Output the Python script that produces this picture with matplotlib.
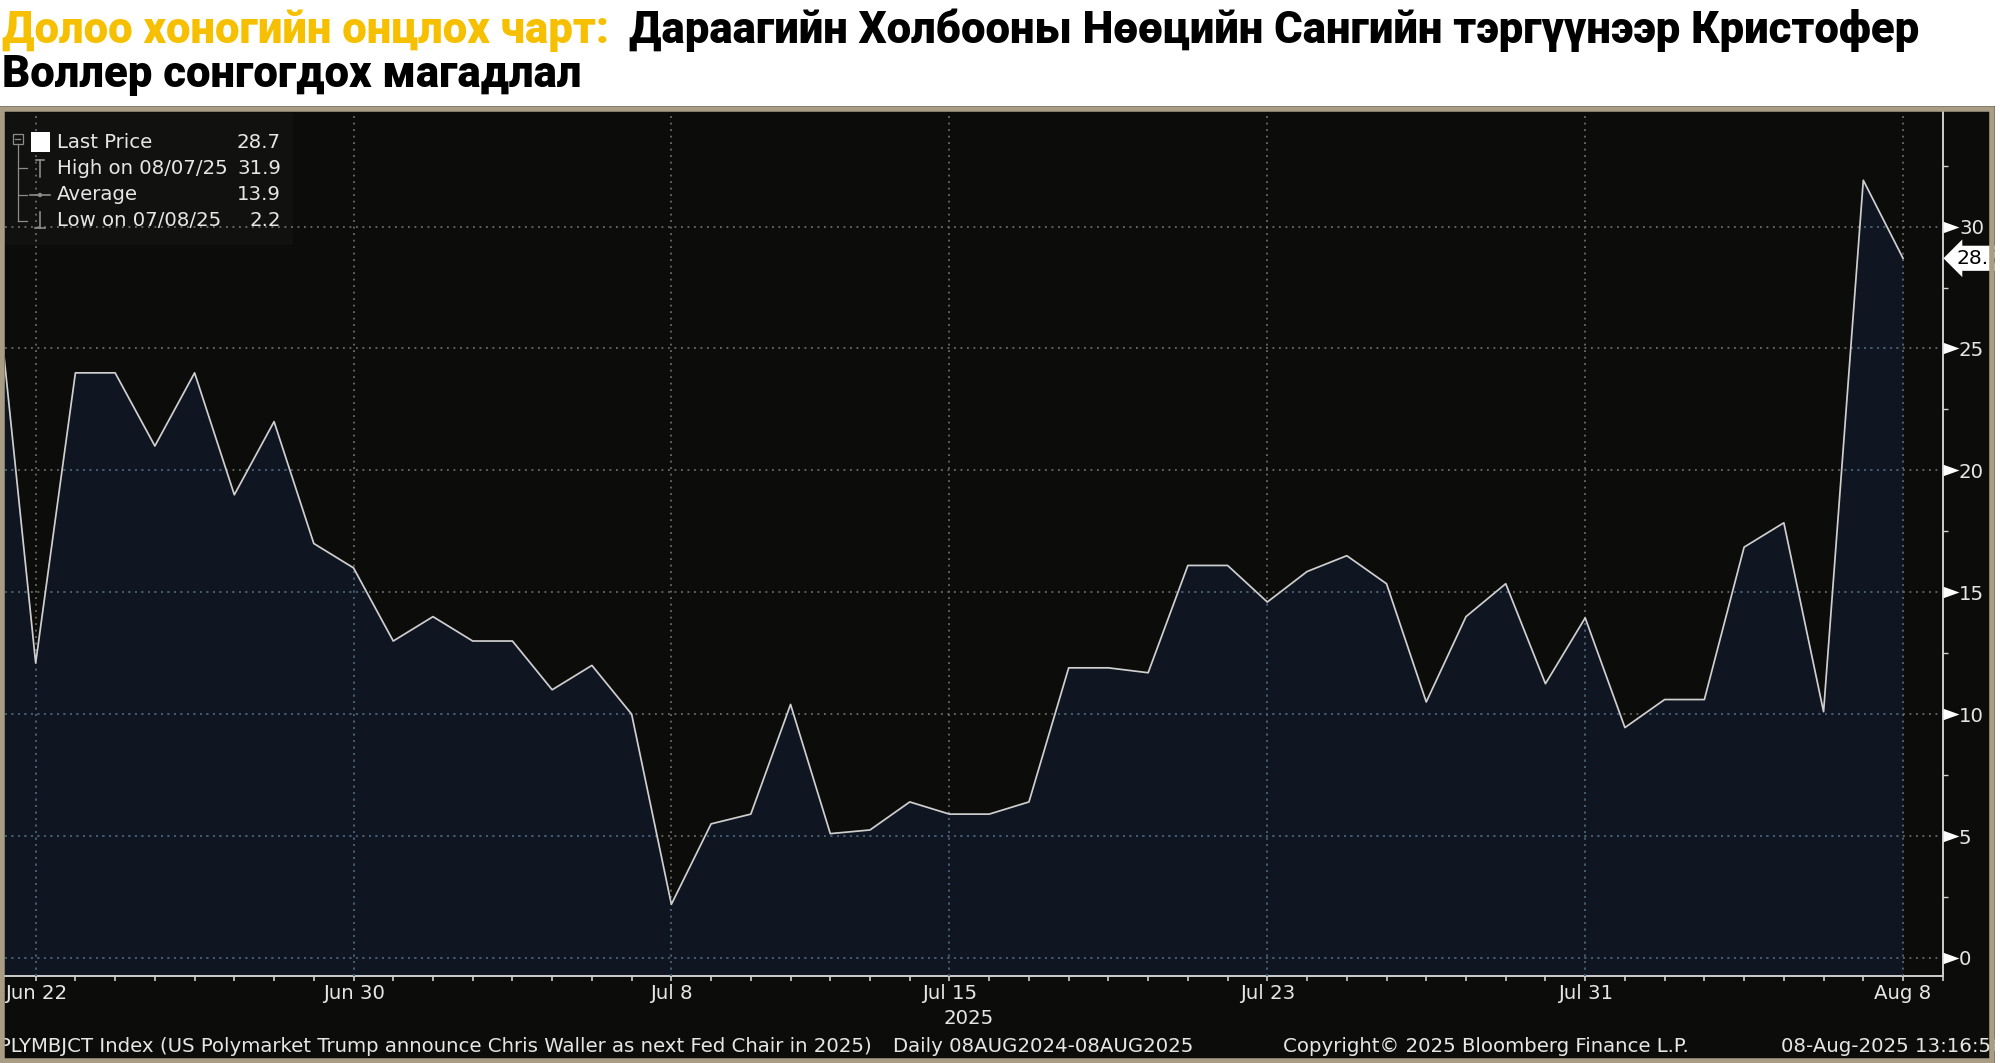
"""Bloomberg-style chart: Polymarket odds that Trump names Chris Waller as next Fed Chair."""

import matplotlib

matplotlib.use("Agg")
import matplotlib.pyplot as plt  # noqa: E402
import matplotlib.dates as mdates  # noqa: E402
import numpy as np  # noqa: E402
import pandas as pd  # noqa: E402
from matplotlib.patches import Rectangle, Circle  # noqa: E402

W, H = 2008, 1063  # output size in pixels (dpi 100)

# --- data (daily, % probability) --------------------------------------------
dates = pd.date_range("2025-06-21", "2025-08-08", freq="D")
probability = [
    27.9, 12.1, 24.0, 24.0, 21.0, 24.0, 19.0, 22.0, 17.0, 16.0,   # Jun 21-30
    13.0, 14.0, 13.0, 13.0, 11.0, 12.0, 10.0, 2.2, 5.5, 5.9,      # Jul 1-10
    10.4, 5.1, 5.25, 6.4, 5.9, 5.9, 6.4, 11.9, 11.9, 11.7,        # Jul 11-20
    16.1, 16.1, 14.6, 15.85, 16.5, 15.35, 10.5, 14.0, 15.35, 11.25,  # Jul 21-30
    13.95,                                                        # Jul 31
    9.45, 10.6, 10.6, 16.85, 17.85, 10.1, 31.9, 28.7,             # Aug 1-8
]
tick_dates = pd.to_datetime(
    ["2025-06-22", "2025-06-30", "2025-07-08", "2025-07-15", "2025-07-23", "2025-07-31", "2025-08-08"]
)
tick_labels = ["Jun 22", "Jun 30", "Jul 8", "Jul 15", "Jul 23", "Jul 31", "Aug 8"]
y_ticks = [0, 5, 10, 15, 20, 25, 30]
y_minor_ticks = [2.5, 7.5, 12.5, 17.5, 22.5, 27.5, 32.5]

legend_labels = ["Last Price", "High on 08/07/25", "Average", "Low on 07/08/25"]
legend_values = ["28.7", "31.9", "13.9", "2.2"]

title_lead = "Долоо хоногийн онцлох чарт:"
title_rest = "Дараагийн Холбооны Нөөцийн Сангийн тэргүүнээр Кристофер"
title_line2 = "Воллер сонгогдох магадлал"

footer_items = [
    ("PLYMBJCT Index (US Polymarket Trump announce Chris Waller as next Fed Chair in 2025)", -1),
    ("Daily 08AUG2024-08AUG2025", 893),
    ("Copyright© 2025 Bloomberg Finance L.P.", 1283),
    ("08-Aug-2025 13:16:56", 1781),
]

# --- colours ------------------------------------------------------------------
PANEL = "#0c0d0b"
FILL = "#0f1621"
LINE = "#cfcfcf"
GRID_DARK = "#6b6b6b"
GRID_FILL = "#3e5b72"
AXIS = "#cfcfcf"
TEXT = "#e6e6e6"
ICON = "#8c8c8c"
FRAME = "#a99d85"
GOLD = "#f6c000"
FS = 14.2  # Bloomberg text size
DOTS = (0, (1.0, 2.6))
TITLE_RIGHT = 1921  # px where the first title line ends in the reference


def box(x0, y0, x1, y1):
    """Pixel box (top-left origin) -> figure fraction rect."""
    return [x0 / W, 1 - y1 / H, (x1 - x0) / W, (y1 - y0) / H]


fig = plt.figure(figsize=(W / 100, H / 100), dpi=100, facecolor="white")

# dark terminal panel behind everything
bg = fig.add_axes([0, 0, 1, 1], zorder=0)
bg.set_xlim(0, W)
bg.set_ylim(H, 0)
bg.axis("off")
bg.add_patch(Rectangle((0, 106), 1995, H - 106, fc=PANEL, ec="none"))

# --- main chart ---------------------------------------------------------------
ax = fig.add_axes(box(5, 112, 1943, 976), zorder=1)
ax.patch.set_visible(False)
ax.set_xlim(tick_dates[0] - pd.Timedelta(days=0.772), tick_dates[-1] + pd.Timedelta(days=1.006))
ax.set_ylim(-0.74, 34.7)

poly = ax.fill_between(dates, probability, -5, color=FILL, lw=0, zorder=1)
ax.plot(dates, probability, color=LINE, lw=1.25, zorder=5)

# dotted grid: grey over the black, blue-grey where it crosses the area fill
fill_path = poly.get_paths()[0]
for d in tick_dates:
    ax.axvline(d, color=GRID_DARK, ls=DOTS, lw=1.3, zorder=2)
    ax.axvline(d, color=GRID_FILL, ls=DOTS, lw=1.3, zorder=3).set_clip_path(fill_path, ax.transData)
for v in y_ticks:
    ax.axhline(v, color=GRID_DARK, ls=DOTS, lw=1.3, zorder=2)
    ax.axhline(v, color=GRID_FILL, ls=DOTS, lw=1.3, zorder=3).set_clip_path(fill_path, ax.transData)

for side in ("left", "top"):
    ax.spines[side].set_visible(False)
for side in ("right", "bottom"):
    ax.spines[side].set_color(AXIS)
    ax.spines[side].set_linewidth(1.4)

ax.yaxis.tick_right()
ax.set_yticks(y_ticks)
ax.set_yticklabels([str(v) for v in y_ticks])
ax.set_yticks(y_minor_ticks, minor=True)
ax.tick_params(axis="y", which="major", length=0, pad=11.5, labelsize=FS, labelcolor=TEXT)
ax.tick_params(axis="y", which="minor", length=3.6, width=1.0, color=AXIS, direction="out")
# white arrow heads on the major y ticks
arrow = [(0, -0.36), (1, 0), (0, 0.36), (0, -0.36)]
ax.plot(np.ones(len(y_ticks)), y_ticks, ls="none", marker=arrow, ms=23, mew=0, color="white",
        transform=ax.get_yaxis_transform(), clip_on=False, zorder=6)

ax.set_xticks(tick_dates)
ax.set_xticklabels(tick_labels)
ax.xaxis.set_minor_locator(mdates.DayLocator())
ax.tick_params(axis="x", which="both", length=3.8, width=1.2, color=AXIS, direction="out")
ax.tick_params(axis="x", which="major", pad=2, labelsize=FS, labelcolor=TEXT)

# last price flag on the right axis
ax.annotate(
    f"{probability[-1]:.1f}",
    xy=(1, probability[-1]),
    xycoords=ax.get_yaxis_transform(),
    xytext=(10, 0),
    textcoords="offset points",
    ha="left",
    va="center",
    fontsize=FS + 0.5,
    color="black",
    bbox=dict(boxstyle="larrow,pad=0.15", fc="white", ec="none"),
    annotation_clip=False,
    zorder=7,
)

# --- overlay: legend, footer, title, frame (pixel coordinates) ---------------
ov = fig.add_axes([0, 0, 1, 1], zorder=3)
ov.set_xlim(0, W)
ov.set_ylim(H, 0)
ov.axis("off")
ov.patch.set_visible(False)

ov.add_patch(Rectangle((5, 113), 288, 132, fc="white", alpha=0.025, ec="none"))
row_y = [142, 168, 195, 221]
# tree connector
ov.add_patch(Rectangle((13, 134), 10, 10, fill=False, ec=ICON, lw=0.9))
ov.plot([15.5, 20.5], [139, 139], color=ICON, lw=0.9)
ov.plot([18, 18], [144, row_y[3]], color=ICON, lw=0.9)
for y in row_y[1:]:
    ov.plot([18, 27], [y, y], color=ICON, lw=0.9)
# icons
ov.add_patch(Rectangle((31, 132), 19, 20, fc="white", ec="none"))
ov.plot([40, 40], [160, 177], color=ICON, lw=1.2)
ov.plot([36, 44], [160, 160], color=ICON, lw=1.2)
ov.plot([30, 50], [row_y[2], row_y[2]], color=ICON, lw=1.2)
ov.add_patch(Circle((40, row_y[2]), 2.2, fc=ICON, ec="none"))
ov.plot([40, 40], [212, 228], color=ICON, lw=1.2)
ov.plot([35, 45], [228, 228], color=ICON, lw=1.2)
for y, lab, val in zip(row_y, legend_labels, legend_values):
    ov.text(57, y, lab, ha="left", va="center", fontsize=FS, color=TEXT)
    ov.text(281, y, val, ha="right", va="center", fontsize=FS, color=TEXT)

ov.text(969, 1018, "2025", ha="center", va="center", fontsize=FS, color=TEXT)
for txt, x in footer_items:
    ov.text(x, 1047, txt, ha="left", va="center", fontsize=FS, color=TEXT)

# tan frame round the terminal panel, white margin to its right
ov.add_patch(Rectangle((2.5, 109), 1990, 951.5, fill=False, ec=FRAME, lw=4.0, zorder=10))
ov.add_patch(Rectangle((1995, 100), 13, H - 100, fc="white", ec="none", zorder=11))

# title: gold lead-in, black remainder; sized so line 1 spans the reference width
title_font = dict(family=["Roboto", "DejaVu Sans"], fontweight="heavy", fontsize=26)
lead = ov.text(2, 43, title_lead, ha="left", va="baseline", color=GOLD, **title_font)
rest = ov.text(0, 43, title_rest, ha="left", va="baseline", color="black", **title_font)
line2 = ov.text(2, 87, title_line2, ha="left", va="baseline", color="black", **title_font)
renderer = fig.canvas.get_renderer()
for _ in range(2):
    lead_end = lead.get_window_extent(renderer).x1
    rest.set_x(lead_end + 20)
    rest_end = rest.get_window_extent(renderer).x1
    size = lead.get_fontsize() * (TITLE_RIGHT - 2) / (rest_end - 2)
    for t in (lead, rest, line2):
        t.set_fontsize(size)
rest.set_x(lead.get_window_extent(renderer).x1 + 20)

fig.savefig("out.png", dpi=100, facecolor="white")
plt.close(fig)
